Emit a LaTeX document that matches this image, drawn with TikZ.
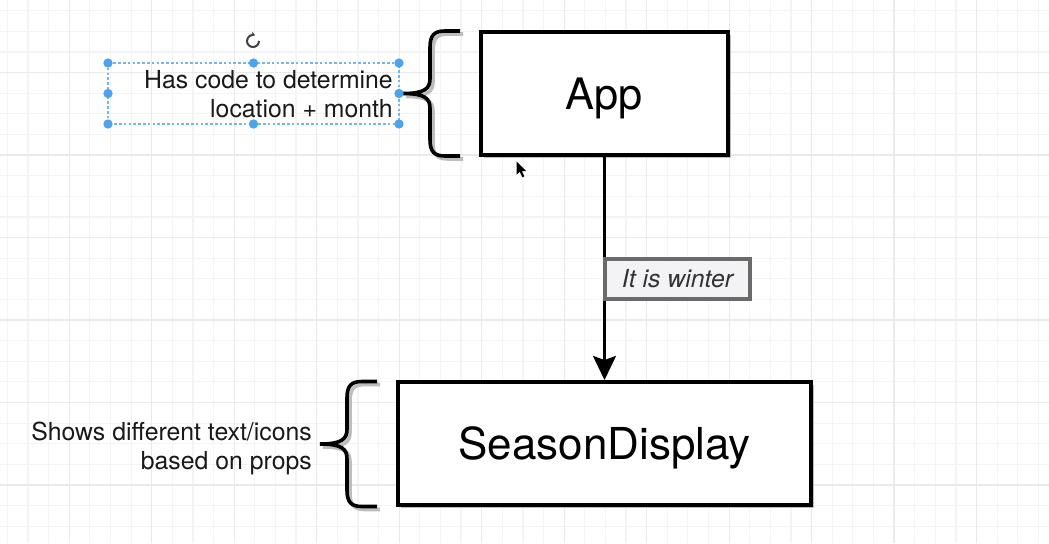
\documentclass[tikz,border=0pt]{standalone}
\usepackage{fontspec}
\setmainfont{TeX Gyre Heros}
\usetikzlibrary{arrows.meta,shadows}
\definecolor{gridminor}{HTML}{F4F4F4}
\definecolor{gridmajor}{HTML}{EAEAEA}
\definecolor{selblue}{HTML}{4DA3EE}
\definecolor{lblfill}{HTML}{F3F3F5}
\definecolor{lbldraw}{HTML}{6A6A6A}
\definecolor{shadowgray}{HTML}{BDBDBD}
\newcommand\mybracepath{(57,-62.5) -- (42,-62.5) .. controls (31,-62.5) and (27,-58) .. (27,-46) -- (27,-15) .. controls (27,-5) and (22,0) .. (0,0) .. controls (22,0) and (27,5) .. (27,15) -- (27,46) .. controls (27,58) and (31,62.5) .. (42,62.5) -- (57,62.5)}
\begin{document}
\begin{tikzpicture}[x=0.75pt,y=-0.75pt,
  box/.style={draw=black, fill=white, line width=2.9pt, minimum width=#1, minimum height=92.25pt, inner sep=0pt, text depth=0pt,
    general shadow={shadow xshift=2.6pt, shadow yshift=-2.6pt, fill=shadowgray}},
  lbl/.style={draw=lbldraw, fill=lblfill, line width=2.3pt, minimum width=108.75pt, minimum height=30pt, inner sep=0pt,
    font=\fontsize{18.6}{22}\selectfont\itshape, text=black!80,
    general shadow={shadow xshift=1.5pt, shadow yshift=-1.5pt, fill=shadowgray}},
  note/.style={align=right, inner sep=0pt, font=\fontsize{18.6}{21.75}\selectfont, text=black!90},
  conn/.style={line width=2.9pt, -{Stealth[length=18pt, width=17pt, inset=3pt]}},
  handle/.style={fill=selblue},
  curly/.pic={
    \draw[shadowgray, line width=2.7pt, shift={(3,3)}] \mybracepath;
    \draw[black, line width=2.7pt] \mybracepath;
  }]
\useasboundingbox (0,0) rectangle (1049,543);
\fill[white] (0,0) rectangle (1049,543);
% grid
\foreach \k in {0,...,50} {\draw[gridminor, line width=0.9pt] ({7.4+20.62*\k},0) -- ({7.4+20.62*\k},543);}
\foreach \k in {0,...,26} {\draw[gridminor, line width=0.9pt] (0,{10.7+20.62*\k}) -- (1049,{10.7+20.62*\k});}
\foreach \k in {3,7,...,47} {\draw[gridmajor, line width=0.9pt] ({7.4+20.62*\k},0) -- ({7.4+20.62*\k},543);}
\foreach \k in {3,7,...,23} {\draw[gridmajor, line width=0.9pt] (0,{10.7+20.62*\k}) -- (1049,{10.7+20.62*\k});}

% boxes
\node[box=185.25pt] (app) at (604.5,93.5) {\fontsize{32.5}{36}\selectfont App};
\node[box=309.75pt] (season) at (604.5,443.5) {\fontsize{33}{36}\selectfont SeasonDisplay};

% connector with label
\draw[conn] (app) -- (season);
\node[lbl] (winter) at (677.5,279) {It is winter};

% braces
\pic at (403,93.5) {curly};
\pic at (320,444) {curly};

% notes
\node[note, anchor=east] (note1) at (393,94.6) {Has code to determine\\location + month};
\node[note, anchor=east] (note2) at (312,448.3) {Shows different text/icons\\based on props};

% selection frame
\draw[selblue!80, line width=1.1pt, dash pattern=on 2pt off 1.6pt] (108,63) rectangle (399,124);
\foreach \p in {(108,63),(253.5,63),(399,63),(108,93.5),(399,93.5),(108,124),(253.5,124),(399,124)}
  {\fill[handle] \p circle[radius=3.5pt];}
% rotate icon
\coordinate (rot) at (253,41);
\draw[black!75, line width=1.5pt, -{Stealth[length=3pt,width=3.6pt]}] (rot) ++(6,0) arc[start angle=0, end angle=290, radius=6];
% cursor
\fill[black] (516.7,161.7) -- ++(0,13) -- ++(3,-3) -- ++(2.6,5.5) -- ++(2,-0.9) -- ++(-2.5,-5.3) -- ++(4.2,0) -- cycle;
\end{tikzpicture}
\end{document}
